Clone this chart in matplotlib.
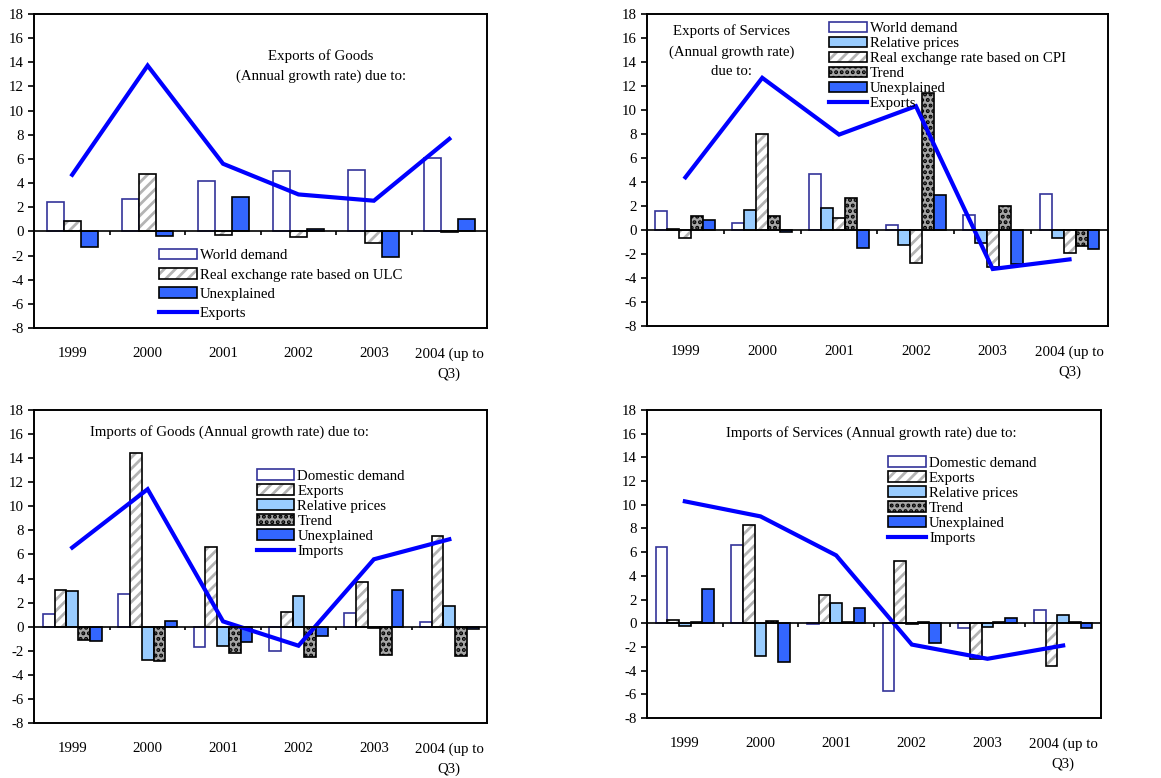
import numpy as np
import matplotlib
matplotlib.use('Agg')
import matplotlib.pyplot as plt
from matplotlib.patches import Patch
from matplotlib.lines import Line2D
from matplotlib.legend_handler import HandlerTuple

plt.rcParams['font.family'] = 'Liberation Serif'
plt.rcParams['font.size'] = 10.7
plt.rcParams['hatch.linewidth'] = 2.0
plt.rcParams['axes.unicode_minus'] = False

years = ['1999', '2000', '2001', '2002', '2003', '2004 (up to\nQ3)']

# Exports of goods
xg_world = [2.45, 2.67, 4.19, 4.99, 5.07, 6.04]
xg_rer_ulc = [0.83, 4.77, -0.3, -0.44, -0.96, -0.05]
xg_unexpl = [-1.3, -0.4, 2.84, 0.22, -2.12, 1.02]
xg_total = [4.69, 13.73, 5.6, 3.06, 2.54, 7.66]

# Exports of services
xs_world = [1.58, 0.56, 4.67, 0.44, 1.22, 3.0]
xs_relp = [0.08, 1.67, 1.8, -1.22, -1.08, -0.64]
xs_rer_cpi = [-0.64, 8.0, 1.0, -2.72, -3.09, -1.92]
xs_trend = [1.14, 1.14, 2.67, 11.43, 2.0, -1.33]
xs_unexpl = [0.8, -0.2, -1.53, 2.95, -2.81, -1.56]
xs_total = [4.39, 12.68, 7.95, 10.32, -3.25, -2.45]

# Imports of goods
mg_dom = [1.08, 2.74, -1.66, -2.05, 1.14, 0.39]
mg_exports = [3.05, 14.41, 6.62, 1.22, 3.69, 7.57]
mg_relp = [2.97, -2.8, -1.6, 2.55, -0.1, 1.69]
mg_trend = [-1.14, -2.85, -2.16, -2.55, -2.33, -2.44]
mg_unexpl = [-1.19, 0.47, -1.27, -0.75, 3.02, -0.2]
mg_total = [6.57, 11.42, 0.44, -1.58, 5.6, 7.26]

# Imports of services
ms_dom = [6.44, 6.6, -0.03, -5.7, -0.4, 1.1]
ms_exports = [0.28, 8.32, 2.42, 5.26, -3.06, -3.65]
ms_relp = [-0.22, -2.75, 1.74, -0.05, -0.28, 0.7]
ms_trend = [0.08, 0.2, 0.14, 0.14, 0.14, 0.14]
ms_unexpl = [2.9, -3.26, 1.3, -1.66, 0.45, -0.36]
ms_total = [10.29, 9.02, 5.73, -1.8, -3.0, -1.88]

NAVY = '#333399'
LBLUE = '#99CCFF'
BLUE = '#3366FF'
LINE = '#0000FF'
HGRAY = '#b4b4b4'
TGRAY = '#a6a6a6'

styles = {
    'world': dict(facecolor='white', edgecolor=NAVY, linewidth=1.2),
    'relp': dict(facecolor=LBLUE, edgecolor='black', linewidth=1.2),
    'unexpl': dict(facecolor=BLUE, edgecolor='black', linewidth=1.2),
    'trend': dict(facecolor=TGRAY, edgecolor='black', linewidth=1.2, hatch='...'),
}


def draw_bars(ax, x, vals, kind, width):
    if kind == 'hatch':
        # grey stripes, black outline on top
        ax.bar(x, vals, width, facecolor='white', edgecolor=HGRAY,
               linewidth=0, hatch='///', zorder=2)
        ax.bar(x, vals, width, fill=False, edgecolor='black',
               linewidth=1.2, zorder=3)
    else:
        ax.bar(x, vals, width, zorder=2, **styles[kind])


def handle(kind):
    if kind == 'hatch':
        return (Patch(facecolor='white', edgecolor=HGRAY, linewidth=0, hatch='///'),
                Patch(fill=False, edgecolor='black', linewidth=1.2))
    return Patch(**styles[kind])


def panel(ax, series, total, total_label, width, title, tpos, leg_anchor, lspace):
    x = np.arange(len(years))
    n = len(series)
    for i, (vals, kind, lab) in enumerate(series):
        draw_bars(ax, x + (i - (n - 1) / 2) * width, vals, kind, width)
    ax.plot(x, total, color=LINE, linewidth=3, zorder=4,
            solid_joinstyle='miter')
    ax.axhline(0, color='black', linewidth=1.2, zorder=5)
    ax.vlines(x[:-1] + 0.5, -0.3, 0, color='black', linewidth=1.2, zorder=5)
    ax.set_xlim(-0.5, len(years) - 0.5)
    ax.set_ylim(-8, 18)
    ax.set_yticks(range(-8, 19, 2))
    ax.set_xticks(x)
    ax.set_xticklabels(years, linespacing=1.6)
    ax.tick_params(axis='x', length=0, pad=14)
    ax.tick_params(axis='y', length=4, width=1.2, direction='out', pad=3.5)
    for s in ax.spines.values():
        s.set_linewidth(1.4)
    ax.text(tpos[0], tpos[1], title, transform=ax.transAxes, ha='center',
            va='center', multialignment='center', linespacing=1.65)
    handles = [handle(kind) for _, kind, _ in series]
    labels = [lab for _, _, lab in series]
    handles.append(Line2D([], [], color=LINE, linewidth=3))
    labels.append(total_label)
    ax.legend(handles, labels, loc='upper left', bbox_to_anchor=leg_anchor,
              bbox_transform=fig.transFigure, frameon=False, borderpad=0,
              borderaxespad=0, handlelength=2.55, handleheight=0.7,
              handletextpad=0.2, labelspacing=lspace,
              handler_map={tuple: HandlerTuple(ndivide=1, pad=0)})


fig = plt.figure(figsize=(11.61, 7.78), dpi=100)
ax1 = fig.add_axes([0.0297, 0.5784, 0.3898, 0.4036])
ax2 = fig.add_axes([0.5573, 0.581, 0.397, 0.401])
ax3 = fig.add_axes([0.0297, 0.0707, 0.3898, 0.4023])
ax4 = fig.add_axes([0.5573, 0.0771, 0.391, 0.3959])

panel(ax1,
      [(xg_world, 'world', 'World demand'),
       (xg_rer_ulc, 'hatch', 'Real exchange rate based on ULC'),
       (xg_unexpl, 'unexpl', 'Unexplained')],
      xg_total, 'Exports', 0.225,
      'Exports of Goods\n(Annual growth rate) due to:', (0.633, 0.833),
      (0.137, 0.680), 0.39)

panel(ax2,
      [(xs_world, 'world', 'World demand'),
       (xs_relp, 'relp', 'Relative prices'),
       (xs_rer_cpi, 'hatch', 'Real exchange rate based on CPI'),
       (xs_trend, 'trend', 'Trend'),
       (xs_unexpl, 'unexpl', 'Unexplained')],
      xs_total, 'Exports', 0.156,
      'Exports of Services\n(Annual growth rate)\ndue to:', (0.184, 0.88),
      (0.714, 0.972), 0.11)

panel(ax3,
      [(mg_dom, 'world', 'Domestic demand'),
       (mg_exports, 'hatch', 'Exports'),
       (mg_relp, 'relp', 'Relative prices'),
       (mg_trend, 'trend', 'Trend'),
       (mg_unexpl, 'unexpl', 'Unexplained')],
      mg_total, 'Imports', 0.156,
      'Imports of Goods (Annual growth rate) due to:', (0.432, 0.93),
      (0.221, 0.397), 0.11)

panel(ax4,
      [(ms_dom, 'world', 'Domestic demand'),
       (ms_exports, 'hatch', 'Exports'),
       (ms_relp, 'relp', 'Relative prices'),
       (ms_trend, 'trend', 'Trend'),
       (ms_unexpl, 'unexpl', 'Unexplained')],
      ms_total, 'Imports', 0.155,
      'Imports of Services (Annual growth rate) due to:', (0.493, 0.925),
      (0.765, 0.4135), 0.11)

fig.savefig('out.png', dpi=100)
